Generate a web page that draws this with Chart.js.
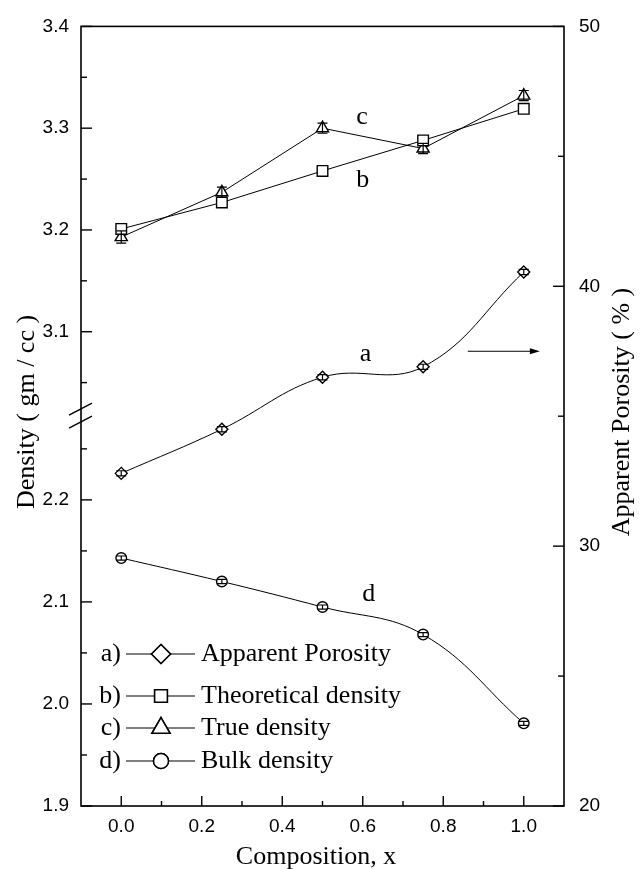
<!DOCTYPE html>
<html>
<head>
<meta charset="utf-8">
<script src="https://cdn.jsdelivr.net/npm/chart.js@4.4.1/dist/chart.umd.min.js"></script>
<style>
  html, body { margin: 0; padding: 0; background: #fff; }
  #wrap { width: 640px; height: 869px; }
</style>
</head>
<body>
<div id="wrap"><canvas id="chart" width="640" height="869"></canvas></div>
<script>
// values
const composition = [0, 0.25, 0.5, 0.75, 1.0];
const apparentPorosity = [32.8, 34.5, 36.5, 36.9, 40.55];
const theoreticalDensity = [3.201, 3.227, 3.258, 3.288, 3.319];
const trueDensity = [3.193, 3.237, 3.300, 3.280, 3.332];
const bulkDensity = [2.143, 2.120, 2.095, 2.068, 1.981];
const porosityErr = [0.1, 0.1, 0.1, 0.1, 0.1];
const trueDensityErr = [0.006, 0.005, 0.005, 0.005, 0.005];
const bulkDensityErr = [0.002, 0.002, 0.002, 0.002, 0.002];

const seriesNames = ['Apparent Porosity', 'Theoretical density', 'True density', 'Bulk density'];
const seriesTags = ['a)', 'b)', 'c)', 'd)'];

// ticks (minor + major), labelled ones listed separately
const xTicks = [0, 0.1, 0.2, 0.3, 0.4, 0.5, 0.6, 0.7, 0.8, 0.9, 1.0];
const xLabels = [0, 0.2, 0.4, 0.6, 0.8, 1.0];
const densTopTicks = [3.05, 3.1, 3.15, 3.2, 3.25, 3.3, 3.35, 3.4];
const densBotTicks = [1.9, 1.95, 2.0, 2.05, 2.1, 2.15, 2.2, 2.25];
const densLabels = [1.9, 2.0, 2.1, 2.2, 3.1, 3.2, 3.3, 3.4];
const porTicks = [20, 25, 30, 35, 40, 45, 50];
const porLabels = [20, 30, 40, 50];

const SERIF = "'Liberation Serif', 'Times New Roman', serif";
const SANS = "'Liberation Sans', Arial, sans-serif";
const near = (arr, v) => arr.some(a => Math.abs(a - v) < 1e-6);
const pts = ys => composition.map((x, i) => ({x: x, y: ys[i]}));

const styles = [
  {pointStyle: 'rectRot', radius: 6, legendRadius: 9.5},
  {pointStyle: 'rect', radius: 7.5, legendRadius: 9},
  {pointStyle: 'triangle', radius: 7, legendRadius: 10.5},
  {pointStyle: 'circle', radius: 5.3, legendRadius: 7.5}
];

function series(i, data, axis, tension, err) {
  return {
    label: seriesNames[i], data: pts(data), yAxisID: axis, err: err,
    borderColor: '#000', borderWidth: 1, tension: tension,
    pointStyle: styles[i].pointStyle, pointRadius: styles[i].radius,
    pointBackgroundColor: '#fff', pointBorderColor: '#000', pointBorderWidth: 1.4
  };
}

const frame = {
  id: 'frame',
  afterDatasetsDraw(chart) {
    // error bars
    const {ctx, scales} = chart;
    ctx.save();
    ctx.strokeStyle = '#000';
    ctx.lineWidth = 1.2;
    chart.data.datasets.forEach(ds => {
      if (!ds.err) return;
      const s = scales[ds.yAxisID];
      ds.data.forEach((p, i) => {
        const x = scales.x.getPixelForValue(p.x);
        const y1 = s.getPixelForValue(p.y + ds.err[i]);
        const y2 = s.getPixelForValue(p.y - ds.err[i]);
        ctx.beginPath();
        ctx.moveTo(x, y1); ctx.lineTo(x, y2);
        ctx.moveTo(x - 5, y1); ctx.lineTo(x + 5, y1);
        ctx.moveTo(x - 5, y2); ctx.lineTo(x + 5, y2);
        ctx.stroke();
      });
    });
    ctx.restore();
  },
  afterDraw(chart) {
    const {ctx, chartArea: ca, scales} = chart;
    ctx.save();
    ctx.strokeStyle = '#000';
    ctx.lineWidth = 1.6;
    ctx.strokeRect(ca.left, ca.top, ca.right - ca.left, ca.bottom - ca.top);
    ctx.lineWidth = 1.4;
    const mark = (x1, y1, x2, y2) => { ctx.beginPath(); ctx.moveTo(x1, y1); ctx.lineTo(x2, y2); ctx.stroke(); };
    xTicks.forEach(v => {
      const x = scales.x.getPixelForValue(v);
      mark(x, ca.bottom, x, ca.bottom - (near(xLabels, v) ? 10 : 5));
    });
    ['yTop', 'yBot'].forEach(id => {
      scales[id].ticks.forEach(t => {
        const y = scales[id].getPixelForValue(t.value);
        mark(ca.left, y, ca.left + (near(densLabels, t.value) ? 11 : 6), y);
      });
    });
    scales.yP.ticks.forEach(t => {
      const y = scales.yP.getPixelForValue(t.value);
      mark(ca.right, y, ca.right - (near(porLabels, t.value) ? 11 : 6), y);
    });
    // axis break
    const yb = scales.yBot.top;
    mark(ca.left - 12, yb - 1, ca.left + 11, yb - 13);
    mark(ca.left - 12, yb + 12, ca.left + 11, yb);

    // axis titles
    ctx.fillStyle = '#000';
    ctx.font = '26px ' + SERIF;
    ctx.textAlign = 'center';
    ctx.textBaseline = 'middle';
    ctx.fillText('Composition, x', 316, 857);
    ctx.save();
    ctx.translate(27, 412); ctx.rotate(-Math.PI / 2);
    ctx.fillText('Density ( gm / cc )', 0, 0);
    ctx.restore();
    ctx.save();
    ctx.translate(622, 412); ctx.rotate(-Math.PI / 2);
    ctx.fillText('Apparent Porosity ( % )', 0, 0);
    ctx.restore();

    // curve letters and arrow
    const notes = [
      {text: 'c', x: 0.598, axis: 'yTop', y: 3.311},
      {text: 'b', x: 0.600, axis: 'yTop', y: 3.249},
      {text: 'a', x: 0.607, axis: 'yP', y: 37.4},
      {text: 'd', x: 0.615, axis: 'yBot', y: 2.108}
    ];
    notes.forEach(n => ctx.fillText(n.text, scales.x.getPixelForValue(n.x), scales[n.axis].getPixelForValue(n.y)));
    const ax1 = scales.x.getPixelForValue(0.861), ax2 = scales.x.getPixelForValue(1.04);
    const ay = scales.yP.getPixelForValue(37.5);
    ctx.lineWidth = 1.2;
    mark(ax1, ay, ax2 - 6, ay);
    ctx.beginPath();
    ctx.moveTo(ax2, ay); ctx.lineTo(ax2 - 10, ay - 3); ctx.lineTo(ax2 - 10, ay + 3); ctx.closePath();
    ctx.fill();

    // legend
    const rows = [654, 696, 728, 761];
    rows.forEach((y, i) => {
      ctx.font = '26px ' + SERIF;
      ctx.textAlign = 'right';
      ctx.fillText(seriesTags[i], 121, y);
      ctx.textAlign = 'left';
      ctx.fillText(seriesNames[i], 201, y);
      ctx.lineWidth = 1.2;
      mark(126, y, 195, y);
      ctx.fillStyle = '#fff';
      ctx.strokeStyle = '#000';
      ctx.lineWidth = 1.5;
      Chart.helpers.drawPoint(ctx, {pointStyle: styles[i].pointStyle, radius: styles[i].legendRadius, borderWidth: 1.5}, 161, y);
      ctx.fill(); ctx.stroke();
      ctx.fillStyle = '#000';
    });
    ctx.restore();
  }
};

const tickFont = {family: SANS, size: 19};
const hiddenGrid = {drawOnChartArea: false, drawTicks: false};

new Chart(document.getElementById('chart').getContext('2d'), {
  type: 'line',
  data: {
    datasets: [
      series(0, apparentPorosity, 'yP', 0.4, porosityErr),
      series(1, theoreticalDensity, 'yTop', 0, null),
      series(2, trueDensity, 'yTop', 0, trueDensityErr),
      series(3, bulkDensity, 'yBot', 0.4, bulkDensityErr)
    ]
  },
  options: {
    responsive: false,
    animation: false,
    layout: {padding: {top: 26, left: 0, right: 0, bottom: 0}},
    plugins: {legend: {display: false}, tooltip: {enabled: false}},
    scales: {
      x: {
        type: 'linear', min: -0.1, max: 1.1,
        grid: hiddenGrid, border: {display: false},
        afterBuildTicks: s => { s.ticks = xTicks.map(v => ({value: v})); },
        afterFit: s => { s.height = 63; },
        ticks: {font: tickFont, color: '#000', padding: 9, autoSkip: false, maxRotation: 0,
          callback: v => near(xLabels, v) ? v.toFixed(1) : ''}
      },
      yTop: {
        type: 'linear', position: 'left', stack: 'dens', stackWeight: 1, weight: 2,
        min: 3.017, max: 3.4,
        grid: hiddenGrid, border: {display: false},
        afterBuildTicks: s => { s.ticks = densTopTicks.map(v => ({value: v})); },
        afterFit: s => { s.width = 81; },
        ticks: {font: tickFont, color: '#000', padding: 12, autoSkip: false,
          callback: v => near(densLabels, v) ? v.toFixed(1) : ''}
      },
      yBot: {
        type: 'linear', position: 'left', stack: 'dens', stackWeight: 1, weight: 1,
        min: 1.9, max: 2.282,
        grid: hiddenGrid, border: {display: false},
        afterBuildTicks: s => { s.ticks = densBotTicks.map(v => ({value: v})); },
        afterFit: s => { s.width = 81; },
        ticks: {font: tickFont, color: '#000', padding: 12, autoSkip: false,
          callback: v => near(densLabels, v) ? v.toFixed(1) : ''}
      },
      yP: {
        type: 'linear', position: 'right', min: 20, max: 50,
        grid: hiddenGrid, border: {display: false},
        afterBuildTicks: s => { s.ticks = porTicks.map(v => ({value: v})); },
        afterFit: s => { s.width = 76; },
        ticks: {font: tickFont, color: '#000', padding: 15, autoSkip: false,
          callback: v => near(porLabels, v) ? String(v) : ''}
      }
    }
  },
  plugins: [frame]
});
</script>
</body>
</html>
